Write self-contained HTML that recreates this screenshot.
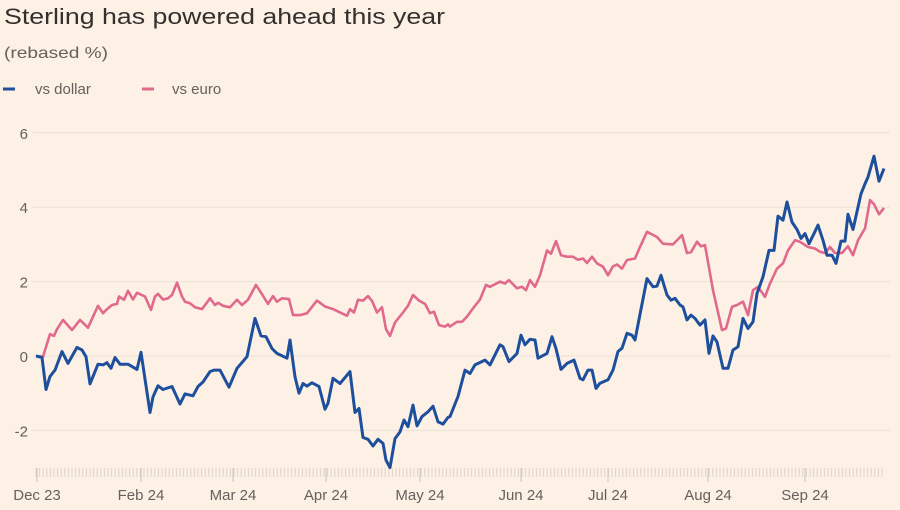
<!DOCTYPE html>
<html><head><meta charset="utf-8"><style>
html,body{margin:0;padding:0;background:#fdf1e6;}
svg{display:block;font-family:"Liberation Sans",sans-serif;}
</style></head><body>
<svg id="chart" width="900" height="510" viewBox="0 0 900 510">
<rect width="900" height="510" fill="#fdf1e6"/>
<text x="4" y="24" font-size="22" fill="#33302e" textLength="441" lengthAdjust="spacingAndGlyphs">Sterling has powered ahead this year</text>
<text x="4" y="58" font-size="16" fill="#66605c" textLength="104" lengthAdjust="spacingAndGlyphs">(rebased %)</text>
<g>
<g><line x1="3" y1="89" x2="15" y2="89" stroke="#1e4f9c" stroke-width="3"/><text x="35" y="94" font-size="15" fill="#66605c">vs dollar</text></g>
<g><line x1="142" y1="89" x2="154" y2="89" stroke="#e0698c" stroke-width="3"/><text x="172" y="94" font-size="15" fill="#66605c">vs euro</text></g>
</g>
<g id="grid"></g><g id="ticks"></g><g id="series"></g>
</svg>
<script>
const yTicks=[6,4,2,0,-2];
const monthLabels=["Dec 23","Feb 24","Mar 24","Apr 24","May 24","Jun 24","Jul 24","Aug 24","Sep 24"];
const monthPos=[1,105,197,290,384,485,572,672,769];
const dollarT=[0,6,10,14,19,26,32,41,46,50,54,62,67,71,75,79,84,92,101,105,114,117,122,127,136,144,149,157,162,167,174,178,184,193,201,211,219,225,230,236,241,251,254,259,263,267,271,276,283,289,292,297,304,314,319,323,327,332,337,342,347,350,354,359,364,368,372,377,381,386,392,397,402,407,412,
414,422,429,434,439,449,454,464,467,473,481,485,489,494,499,502,511,516,520,525,531,538,544,547,552,556,560,564,572,577,582,586,591,596,599,611,617,621,625,631,635,639,644,647,651,655,659,664,669,673,677,681,687,692,697,702,707,712,717,721,727,733,738,742,747,751,756,761,765,769,773,778,782,787,791,796,800,805,809,812,817,825,829,832,838,843,848];
const dollarV=[0,-0.04,-0.9,-0.55,-0.38,0.12,-0.2,0.23,0.16,-0.02,-0.75,-0.22,-0.24,-0.18,-0.33,-0.04,-0.22,-0.22,-0.36,0.1,-1.52,-1.1,-0.8,-0.9,-0.82,-1.29,-1.02,-1.07,-0.82,-0.7,-0.42,-0.38,-0.38,-0.84,-0.33,-0.02,1.01,0.54,0.52,0.2,0.07,-0.06,0.43,-0.56,-1.0,-0.74,-0.81,-0.72,-0.82,-1.43,-1.27,-0.6,-0.74,-0.42,-1.52,-1.41,-2.19,-2.24,-2.42,-2.24,-2.35,-2.8,-3.0,-2.22,-2.04,-1.72,-1.9,-1.32,-1.88,-1.63,-1.5,-1.35,-1.77,-1.83,-1.65,
-1.63,-1.09,-0.38,-0.47,-0.24,-0.11,-0.24,0.3,0.25,-0.15,0.07,0.56,0.3,0.45,0.43,-0.06,0.07,0.52,0.2,-0.36,-0.2,-0.11,-0.6,-0.64,-0.38,-0.38,-0.87,-0.73,-0.64,-0.38,0.12,0.21,0.61,0.56,0.43,2.08,1.86,1.88,2.17,1.64,1.5,1.55,1.37,1.32,0.97,1.1,1.01,0.83,0.97,0.07,0.54,0.38,-0.33,-0.33,0.16,0.25,1.01,0.74,0.92,1.68,2.13,2.84,2.84,3.76,3.65,4.14,3.6,3.4,3.16,3.29,3.02,3.29,3.52,3.11,2.71,2.71,2.49,3.09,3.09,3.81,3.4,4.36,4.63,4.81,5.37,4.7,5.04];
const euroT=[0,7,14,18,21,27,36,44,52,62,67,71,76,81,83,88,92,97,101,109,115,119,122,127,132,136,141,146,149,154,159,166,174,179,182,187,194,201,206,212,220,226,232,237,241,246,253,257,264,271,281,289,297,311,314,318,322,327,332,336,341,346,350,354,359,367,372,377,383,389,394,398,403,409,412,
414,421,426,431,437,444,450,454,464,469,473,481,486,490,494,499,504,511,515,520,525,531,537,542,547,551,556,561,567,572,577,581,586,591,599,604,611,621,627,637,646,651,655,661,665,669,677,686,690,696,701,707,712,717,722,729,734,741,747,752,759,764,772,779,784,789,794,799,806,812,817,822,829,834,838,843,848];
const euroV=[0,-0.02,0.59,0.54,0.72,0.97,0.7,0.97,0.76,1.35,1.15,1.26,1.37,1.4,1.6,1.51,1.75,1.52,1.7,1.6,1.24,1.6,1.67,1.52,1.55,1.64,1.97,1.6,1.46,1.42,1.31,1.26,1.55,1.37,1.43,1.35,1.31,1.51,1.37,1.51,1.91,1.66,1.4,1.61,1.46,1.55,1.53,1.1,1.1,1.15,1.49,1.33,1.26,1.08,1.26,1.17,1.51,1.49,1.61,1.48,1.17,1.31,0.72,0.54,0.9,1.17,1.35,1.64,1.49,1.4,1.15,1.19,0.83,0.79,0.85,
0.79,0.92,0.92,1.06,1.28,1.52,1.91,1.86,2.0,1.95,2.04,1.82,1.86,1.77,2.04,1.86,2.17,2.84,2.75,3.09,2.71,2.67,2.67,2.59,2.62,2.5,2.67,2.49,2.4,2.17,2.41,2.46,2.35,2.58,2.62,2.93,3.34,3.2,3.02,3.0,3.25,2.77,2.79,3.07,2.95,2.98,1.77,0.7,0.74,1.32,1.37,1.46,1.1,1.77,1.86,1.59,1.95,2.35,2.49,2.84,3.11,3.07,2.93,2.89,2.8,2.77,2.93,2.77,2.77,2.95,2.71,3.11,3.43,4.19,4.08,3.81,3.98];

const NS="http://www.w3.org/2000/svg";
const X0=36,X1=885,T1=849;
const xs=t=>X0+(t/T1)*(X1-X0);
const ys=v=>356-v*37.2;
function mk(tag,attrs,parent){const e=document.createElementNS(NS,tag);for(const k in attrs)e.setAttribute(k,attrs[k]);parent.appendChild(e);return e;}
const grid=document.getElementById('grid');
yTicks.forEach(v=>{
  const l=mk('line',{x1:33,x2:890,y1:ys(v),y2:ys(v),stroke:'#ece1d6','stroke-width':1},grid);
  
  
  const t=mk('text',{x:28,y:ys(v)+6,'font-size':15,fill:'#66605c','text-anchor':'end'},grid);
  t.textContent=v;
  
  
});
const ticks=document.getElementById('ticks');
for(let t=0;t<=T1;t+=3.6){
  const tk=mk('line',{x1:xs(t),x2:xs(t),y1:468,y2:477,stroke:'#ddd3ca','stroke-width':1},ticks);
  
  
}
monthLabels.forEach((m,i)=>{
  const tk=mk('line',{x1:xs(monthPos[i]),x2:xs(monthPos[i]),y1:468,y2:482,stroke:'#ccc2b9','stroke-width':1},ticks);
  
  
  const tx=mk('text',{x:xs(monthPos[i]),y:500,'font-size':15,fill:'#66605c','text-anchor':'middle'},ticks);
  tx.textContent=m;
  
  
});
const series=document.getElementById('series');
function path(T,V){return T.map((t,i)=>(i?'L':'M')+xs(t).toFixed(1)+','+ys(V[i]).toFixed(1)).join('');}
const pe=mk('path',{d:path(euroT,euroV),fill:'none',stroke:'#e0698c','stroke-width':2.6,'stroke-linejoin':'round'},series);


const pd=mk('path',{d:path(dollarT,dollarV),fill:'none',stroke:'#1e4f9c','stroke-width':3,'stroke-linejoin':'round'},series);


</script>
</body></html>
